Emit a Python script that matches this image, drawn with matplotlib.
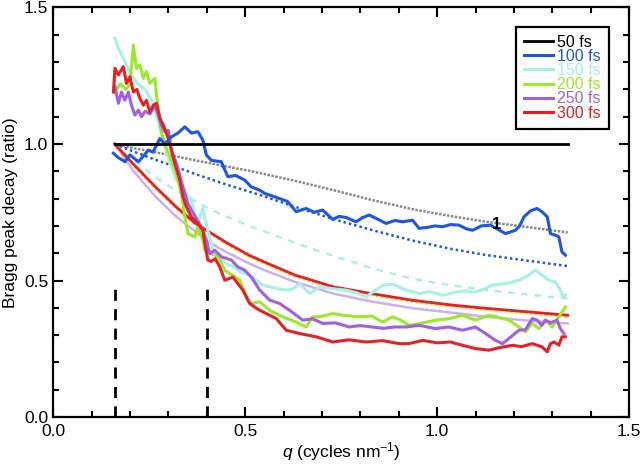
import matplotlib
matplotlib.use("Agg")
import matplotlib.pyplot as plt

plt.rcParams['font.family'] = ['Liberation Sans', 'DejaVu Sans']
plt.rcParams['mathtext.fontset'] = 'custom'
plt.rcParams['mathtext.rm'] = 'Liberation Sans'
plt.rcParams['mathtext.it'] = 'Liberation Sans:italic'

# measured decays (q in cycles/nm)
q_50 = [0.16, 1.34]
y_50 = [1.0, 1.0]

q_100 = [0.157, 0.17, 0.187, 0.2, 0.222, 0.235, 0.248, 0.26, 0.278, 0.29, 0.308, 0.325, 0.343, 0.36, 0.377, 0.39,
         0.399, 0.412, 0.438, 0.455, 0.475, 0.499, 0.516, 0.538, 0.551, 0.57, 0.59, 0.61, 0.633, 0.659, 0.68, 0.702,
         0.728, 0.745, 0.763, 0.789, 0.805, 0.823, 0.845, 0.867, 0.89, 0.91, 0.936, 0.953, 0.975, 0.995, 1.014, 1.035,
         1.057, 1.075, 1.092, 1.115, 1.139, 1.155, 1.178, 1.204, 1.215, 1.226, 1.243, 1.26, 1.273, 1.287, 1.295,
         1.308, 1.317, 1.325, 1.334]
y_100 = [0.966, 0.95, 0.935, 0.96, 0.935, 0.955, 0.978, 0.97, 1.02, 1.0, 1.026, 1.04, 1.063, 1.04, 1.045, 1.014,
         0.96, 0.94, 0.935, 0.88, 0.885, 0.868, 0.843, 0.831, 0.819, 0.81, 0.80, 0.79, 0.752, 0.764, 0.75, 0.758,
         0.724, 0.735, 0.731, 0.715, 0.73, 0.74, 0.725, 0.709, 0.72, 0.715, 0.721, 0.691, 0.695, 0.70, 0.697, 0.705,
         0.703, 0.69, 0.684, 0.70, 0.703, 0.69, 0.672, 0.684, 0.70, 0.733, 0.755, 0.764, 0.752, 0.733, 0.672,
         0.666, 0.66, 0.605, 0.593]

q_150 = [0.161, 0.17, 0.183, 0.2, 0.22, 0.24, 0.26, 0.28, 0.3, 0.32, 0.343, 0.36, 0.377, 0.39, 0.40, 0.416, 0.435,
         0.451, 0.47, 0.49, 0.512, 0.53, 0.546, 0.564, 0.585, 0.607, 0.625, 0.642, 0.668, 0.694, 0.728, 0.763, 0.79,
         0.815, 0.835, 0.858, 0.884, 0.91, 0.953, 0.98, 1.014, 1.04, 1.07, 1.10, 1.125, 1.144, 1.178, 1.213, 1.239,
         1.256, 1.273, 1.291, 1.308, 1.321, 1.33, 1.334]
y_150 = [1.387, 1.35, 1.314, 1.26, 1.22, 1.2, 1.15, 1.05, 0.95, 0.87, 0.831, 0.79, 0.71, 0.764, 0.70, 0.611, 0.58,
         0.562, 0.55, 0.53, 0.52, 0.50, 0.483, 0.477, 0.47, 0.465, 0.47, 0.489, 0.452, 0.477, 0.47, 0.465, 0.455,
         0.44, 0.46, 0.483, 0.487, 0.47, 0.452, 0.46, 0.446, 0.455, 0.462, 0.458, 0.47, 0.483, 0.489, 0.501, 0.52,
         0.538, 0.52, 0.501, 0.495, 0.465, 0.434, 0.447]

q_200 = [0.16, 0.175, 0.19, 0.2, 0.209, 0.217, 0.226, 0.235, 0.243, 0.252, 0.265, 0.269, 0.282, 0.295, 0.308, 0.321,
         0.334, 0.343, 0.351, 0.369, 0.377, 0.39, 0.395, 0.412, 0.429, 0.447, 0.466, 0.486, 0.512, 0.538, 0.564,
         0.598, 0.633, 0.659, 0.676, 0.694, 0.728, 0.76, 0.797, 0.83, 0.858, 0.884, 0.905, 0.927, 0.953, 0.996, 1.03,
         1.066, 1.10, 1.135, 1.16, 1.187, 1.213, 1.23, 1.248, 1.265, 1.282, 1.3, 1.317, 1.334]
y_200 = [1.19, 1.22, 1.2, 1.22, 1.362, 1.277, 1.29, 1.24, 1.265, 1.222, 1.24, 1.179, 1.045, 0.984, 0.941, 0.892,
         0.819, 0.733, 0.672, 0.66, 0.696, 0.648, 0.611, 0.599, 0.587, 0.538, 0.52, 0.501, 0.416, 0.422, 0.391,
         0.367, 0.348, 0.33, 0.367, 0.367, 0.379, 0.372, 0.367, 0.37, 0.348, 0.367, 0.355, 0.336, 0.342, 0.355, 0.36,
         0.373, 0.355, 0.373, 0.365, 0.355, 0.33, 0.312, 0.343, 0.324, 0.355, 0.33, 0.367, 0.403]

q_250 = [0.161, 0.17, 0.178, 0.187, 0.196, 0.204, 0.213, 0.222, 0.23, 0.24, 0.252, 0.265, 0.274, 0.282, 0.291, 0.3,
         0.308, 0.321, 0.338, 0.351, 0.36, 0.373, 0.386, 0.399, 0.408, 0.421, 0.438, 0.464, 0.481, 0.499, 0.516,
         0.538, 0.564, 0.59, 0.616, 0.65, 0.675, 0.702, 0.735, 0.771, 0.8, 0.83, 0.86, 0.89, 0.92, 0.953, 0.996,
         1.03, 1.066, 1.10, 1.126, 1.152, 1.17, 1.187, 1.213, 1.23, 1.248, 1.26, 1.273, 1.282, 1.295, 1.312, 1.321,
         1.33]
y_250 = [1.21, 1.149, 1.19, 1.16, 1.19, 1.142, 1.106, 1.124, 1.1, 1.12, 1.11, 1.142, 1.106, 1.069, 1.045, 1.05,
         0.978, 0.929, 0.843, 0.782, 0.758, 0.727, 0.696, 0.648, 0.599, 0.611, 0.587, 0.575, 0.55, 0.538, 0.513,
         0.465, 0.428, 0.416, 0.391, 0.355, 0.36, 0.343, 0.345, 0.33, 0.335, 0.33, 0.325, 0.33, 0.33, 0.336, 0.324,
         0.33, 0.318, 0.33, 0.306, 0.281, 0.269, 0.288, 0.318, 0.32, 0.361, 0.355, 0.336, 0.355, 0.345, 0.355, 0.324,
         0.306]

q_300 = [0.157, 0.161, 0.17, 0.183, 0.191, 0.2, 0.209, 0.218, 0.226, 0.235, 0.243, 0.252, 0.261, 0.269, 0.278,
         0.287, 0.3, 0.308, 0.317, 0.33, 0.338, 0.347, 0.36, 0.377, 0.39, 0.395, 0.403, 0.412, 0.422, 0.434, 0.447,
         0.468, 0.494, 0.512, 0.533, 0.555, 0.581, 0.607, 0.642, 0.685, 0.728, 0.77, 0.815, 0.858, 0.901, 0.927,
         0.962, 1.0, 1.035, 1.066, 1.10, 1.135, 1.165, 1.196, 1.22, 1.248, 1.273, 1.287, 1.295, 1.305, 1.317, 1.325,
         1.334]
y_300 = [1.19, 1.277, 1.253, 1.283, 1.222, 1.246, 1.19, 1.2, 1.167, 1.142, 1.16, 1.118, 1.142, 1.149, 1.094, 1.069,
         1.02, 0.978, 0.929, 0.868, 0.807, 0.77, 0.733, 0.709, 0.684, 0.636, 0.575, 0.57, 0.58, 0.55, 0.501, 0.513,
         0.465, 0.416, 0.395, 0.379, 0.361, 0.318, 0.306, 0.294, 0.275, 0.283, 0.275, 0.28, 0.269, 0.269, 0.281,
         0.272, 0.275, 0.263, 0.251, 0.245, 0.255, 0.263, 0.258, 0.269, 0.257, 0.239, 0.269, 0.275, 0.263, 0.294,
         0.294]

# fitted curves
q_fit = [0.16, 0.21, 0.265, 0.32, 0.37, 0.40, 0.45, 0.51, 0.55, 0.63, 0.73, 0.83, 0.94, 1.04, 1.13, 1.24, 1.34]
fit_50 = [1.0, 0.985, 0.97, 0.955, 0.94, 0.932, 0.918, 0.902, 0.89, 0.865, 0.831, 0.795, 0.76, 0.735, 0.715, 0.695, 0.676]
fit_100 = [1.0, 0.972, 0.943, 0.916, 0.89, 0.876, 0.852, 0.826, 0.808, 0.77, 0.725, 0.685, 0.645, 0.615, 0.593, 0.572, 0.553]
fit_150 = [1.0, 0.94, 0.88, 0.83, 0.79, 0.767, 0.735, 0.70, 0.68, 0.638, 0.59, 0.545, 0.505, 0.482, 0.465, 0.448, 0.434]
fit_200 = [1.0, 0.92, 0.84, 0.765, 0.705, 0.679, 0.635, 0.588, 0.563, 0.515, 0.472, 0.447, 0.422, 0.405, 0.393, 0.38, 0.368]
fit_250 = [1.0, 0.90, 0.81, 0.735, 0.68, 0.645, 0.605, 0.563, 0.538, 0.495, 0.452, 0.423, 0.398, 0.382, 0.367, 0.353, 0.343]
fit_300 = [1.0, 0.925, 0.845, 0.77, 0.71, 0.684, 0.64, 0.593, 0.568, 0.52, 0.477, 0.452, 0.427, 0.41, 0.398, 0.385, 0.373]

q_marks = [0.16, 0.4]

c_blue = '#1f55e0'
c_cyan = '#a6f0e6'
c_green = '#9be82c'
c_purple = '#a060e0'
c_red = '#e32226'

fig = plt.figure(figsize=(6.4, 4.65), dpi=100)
ax = fig.add_axes([0.083, 0.103, 0.900, 0.881])

# fits
ax.plot(q_fit, fit_50, color='#888888', lw=1.8, ls=(0, (1, 0.6)))
ax.plot(q_fit, fit_100, color=c_blue, lw=1.8, ls=(0, (1, 1.2)))
ax.plot(q_fit, fit_150, color=c_cyan, lw=1.6, ls=(0, (3, 3)))
ax.plot(q_fit, fit_250, color='#cdb0f0', lw=1.8)
ax.plot(q_fit, fit_200, color='#d8e040', lw=2.0, ls=(0, (1, 0.8)))
ax.plot(q_fit, fit_300, color=c_red, lw=2.0)

# data
ax.plot(q_150, y_150, color=c_cyan, lw=2.2, label='150 fs')
ax.plot(q_200, y_200, color=c_green, lw=2.2, label='200 fs')
ax.plot(q_250, y_250, color=c_purple, lw=2.2, label='250 fs')
ax.plot(q_300, y_300, color=c_red, lw=2.2, label='300 fs')
ax.plot(q_100, y_100, color=c_blue, lw=2.2, label='100 fs')
ax.plot(q_50, y_50, color='black', lw=2.0, label='50 fs')

ax.vlines(q_marks, 0, 0.5, colors='black', linestyles=(0, (4, 3)), lw=2)
ax.text(1.155, 0.705, '1', fontsize=12, fontweight='bold', ha='center', va='center')

ax.set_xlim(0, 1.5)
ax.set_ylim(0, 1.5)
ax.set_xticks([0.0, 0.5, 1.0, 1.5])
ax.set_yticks([0.0, 0.5, 1.0, 1.5])
ax.set_xticks([i / 10 for i in range(16)], minor=True)
ax.set_yticks([i / 10 for i in range(16)], minor=True)
ax.tick_params(which='both', direction='in', top=True, right=True, width=1.5, labelsize=12.5)
ax.tick_params(which='major', length=7)
ax.tick_params(which='minor', length=4)
ax.tick_params(axis='x', pad=5)
for s in ax.spines.values():
    s.set_linewidth(1.6)

ax.set_xlabel('$q$ (cycles nm$^{-1}$)', fontsize=12.5, labelpad=1)
ax.set_ylabel('Bragg peak decay (ratio)', fontsize=12.5, labelpad=4)

handles, labels = ax.get_legend_handles_labels()
order = [5, 4, 0, 1, 2, 3]
leg = ax.legend([handles[i] for i in order], [labels[i] for i in order],
                loc='upper right', bbox_to_anchor=(0.965, 0.953), borderaxespad=0,
                fontsize=11.5, handlelength=1.8, labelspacing=-0.05, handletextpad=0.3,
                borderpad=0.5, fancybox=False, framealpha=1)
leg.get_frame().set_edgecolor('black')
leg.get_frame().set_linewidth(1.6)
for t, h in zip(leg.get_texts(), leg.legend_handles):
    t.set_color(h.get_color())

fig.savefig('out.png', dpi=100)
